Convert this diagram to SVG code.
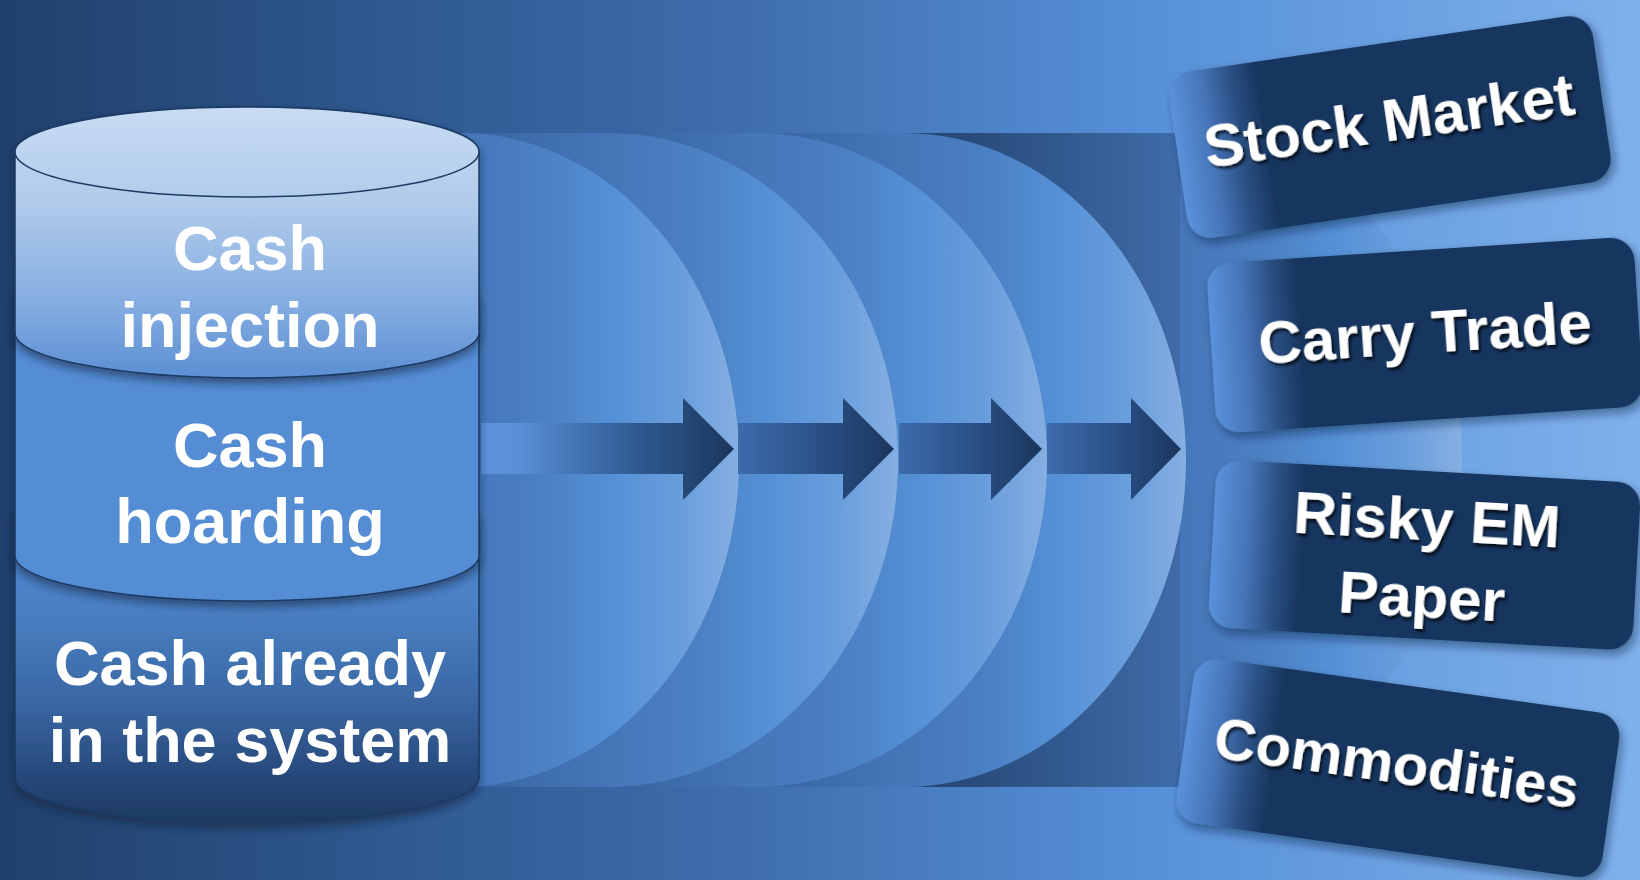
<svg xmlns="http://www.w3.org/2000/svg" width="1640" height="880" viewBox="0 0 1640 880">
<defs>
  <linearGradient id="bg" x1="0" y1="0" x2="1640" y2="0" gradientUnits="userSpaceOnUse">
    <stop offset="0" stop-color="#21406b"/>
    <stop offset="0.25" stop-color="#2f5a92"/>
    <stop offset="0.45" stop-color="#3f6dac"/>
    <stop offset="0.7" stop-color="#5690d8"/>
    <stop offset="1" stop-color="#7fb1eb"/>
  </linearGradient>
  <linearGradient id="band" x1="900" y1="0" x2="1190" y2="0" gradientUnits="userSpaceOnUse">
    <stop offset="0" stop-color="#21416d"/>
    <stop offset="1" stop-color="#406daa"/>
  </linearGradient>
  <linearGradient id="arcg" x1="0" y1="0" x2="1" y2="0">
    <stop offset="0" stop-color="#38649f"/>
    <stop offset="0.345" stop-color="#4576b8"/>
    <stop offset="0.54" stop-color="#4b80c3"/>
    <stop offset="0.705" stop-color="#5590d6"/>
    <stop offset="0.868" stop-color="#6a9edc"/>
    <stop offset="1" stop-color="#86afe2"/>
  </linearGradient>
  <linearGradient id="arr1" x1="481" y1="0" x2="734" y2="0" gradientUnits="userSpaceOnUse">
    <stop offset="0" stop-color="#5c93da"/>
    <stop offset="0.15" stop-color="#5a90d6"/>
    <stop offset="0.35" stop-color="#4677b8"/>
    <stop offset="0.62" stop-color="#2f5a90"/>
    <stop offset="1" stop-color="#1b365d"/>
  </linearGradient>
  <linearGradient id="arr" x1="0" y1="0" x2="1" y2="0">
    <stop offset="0" stop-color="#3d6cab"/>
    <stop offset="0.5" stop-color="#2b5188"/>
    <stop offset="1" stop-color="#1b365d"/>
  </linearGradient>
  <linearGradient id="sec1" x1="0" y1="107" x2="0" y2="378" gradientUnits="userSpaceOnUse">
    <stop offset="0" stop-color="#c8dcf3"/>
    <stop offset="0.35" stop-color="#b1cbeb"/>
    <stop offset="0.7" stop-color="#88afe2"/>
    <stop offset="1" stop-color="#5b8fd3"/>
  </linearGradient>
  <linearGradient id="top1" x1="0" y1="107" x2="0" y2="197" gradientUnits="userSpaceOnUse">
    <stop offset="0" stop-color="#c8dcf3"/>
    <stop offset="1" stop-color="#b2ccec"/>
  </linearGradient>
  <linearGradient id="sec3" x1="0" y1="520" x2="0" y2="823" gradientUnits="userSpaceOnUse">
    <stop offset="0" stop-color="#5088d0"/>
    <stop offset="0.3" stop-color="#4a7fc3"/>
    <stop offset="0.6" stop-color="#3a67a3"/>
    <stop offset="0.85" stop-color="#26487a"/>
    <stop offset="1" stop-color="#1d3960"/>
  </linearGradient>
  <linearGradient id="boxg" x1="0" y1="0" x2="1" y2="0">
    <stop offset="0" stop-color="#5b92da"/>
    <stop offset="0.08" stop-color="#4675b8"/>
    <stop offset="0.15" stop-color="#2a4f82"/>
    <stop offset="0.21" stop-color="#18365f"/>
    <stop offset="1" stop-color="#18365f"/>
  </linearGradient>
  <filter id="secsh" x="-10%" y="-10%" width="120%" height="130%">
    <feDropShadow dx="0" dy="5" stdDeviation="4" flood-color="#0a1c36" flood-opacity="0.55"/>
  </filter>
  <filter id="boxsh" x="-10%" y="-20%" width="125%" height="150%">
    <feDropShadow dx="3" dy="5" stdDeviation="5" flood-color="#0a1c36" flood-opacity="0.45"/>
  </filter>
  <filter id="txtsh" x="-10%" y="-30%" width="120%" height="170%">
    <feDropShadow dx="2" dy="3" stdDeviation="1.5" flood-color="#000000" flood-opacity="0.75"/>
  </filter>
</defs>
<style>
  .sec { stroke: #1c3a64; stroke-width: 1.5; }
  .ct { font-family: "Liberation Sans", Arial, sans-serif; font-weight: bold; font-size: 63px; fill: #ffffff; text-anchor: middle; }
  .bt { font-family: "Liberation Sans", Arial, sans-serif; font-weight: bold; font-size: 60px; fill: #ffffff; text-anchor: middle; filter: url(#txtsh); }
  .arc { fill: url(#arcg); }
  .box { fill: url(#boxg); filter: url(#boxsh); }
</style>

<rect x="0" y="0" width="1640" height="880" fill="url(#bg)"/>

<g id="backdrop">
  <path class="arc" d="M1030,133 H1180 A282,327 0 0 1 1180,787 H1030 Z"/>
  <rect x="460" y="133" width="720" height="654" fill="url(#band)"/>
  <path class="arc" d="M754,133 H904 A282,327 0 0 1 904,787 H754 Z"/>
  <path class="arc" d="M606,133 H756 A291,327 0 0 1 756,787 H606 Z"/>
  <path class="arc" d="M458,133 H608 A290,327 0 0 1 608,787 H458 Z"/>
  <path class="arc" d="M310,133 H460 A279,327 0 0 1 460,787 H310 Z"/>
</g>

<g id="connectors">
  <path d="M481,423 H683 V398 L734,449 L683,500 V474 H481 Z" fill="url(#arr1)"/>
  <path d="M738,423 H843 V398 L894,449 L843,500 V474 H738 Z" fill="url(#arr)"/>
  <path d="M899,423 H991 V398 L1042,449 L991,500 V474 H899 Z" fill="url(#arr)"/>
  <path d="M1047,423 H1131 V398 L1181,449 L1131,500 V474 H1047 Z" fill="url(#arr)"/>
</g>

<g id="cash-system">
  <path class="sec" filter="url(#secsh)" fill="url(#sec3)" d="M15,520 A232,45 0 0 1 479,520 V778 A232,45 0 0 1 15,778 Z"/>
  <text class="ct" x="250" y="685">Cash already</text>
  <text class="ct" x="250" y="762">in the system</text>
</g>
<g id="cash-hoarding">
  <path class="sec" filter="url(#secsh)" fill="#558dd5" d="M15,300 A232,45 0 0 1 479,300 V556 A232,45 0 0 1 15,556 Z"/>
  <text class="ct" x="250" y="467">Cash</text>
  <text class="ct" x="250" y="543">hoarding</text>
</g>
<g id="cash-injection">
  <path class="sec" filter="url(#secsh)" fill="url(#sec1)" d="M15,152 A232,45 0 0 1 479,152 V333 A232,45 0 0 1 15,333 Z"/>
  <ellipse class="sec" cx="247" cy="152" rx="232" ry="45" fill="url(#top1)"/>
  <text class="ct" x="250" y="270">Cash</text>
  <text class="ct" x="250" y="347">injection</text>
</g>

<g id="stock-market" transform="translate(1390,127) rotate(-8.3)">
  <rect class="box" x="-214" y="-84" width="428" height="168" rx="24"/>
  <text class="bt" x="0" y="14">Stock Market</text>
</g>
<g id="carry-trade" transform="translate(1425,335) rotate(-3.7)">
  <rect class="box" x="-214" y="-85" width="428" height="170" rx="24"/>
  <text class="bt" x="0" y="18">Carry Trade</text>
</g>
<g id="risky-em-paper" transform="translate(1424,555) rotate(3.2)">
  <rect class="box" x="-212" y="-84" width="425" height="168" rx="24"/>
  <text class="bt" x="1" y="-15">Risky EM</text>
  <text class="bt" x="0" y="62">Paper</text>
</g>
<g id="commodities" transform="translate(1398,768) rotate(8)">
  <rect class="box" x="-215" y="-83" width="430" height="166" rx="24"/>
  <text class="bt" x="-2" y="15" style="font-size:58px">Commodities</text>
</g>
</svg>
